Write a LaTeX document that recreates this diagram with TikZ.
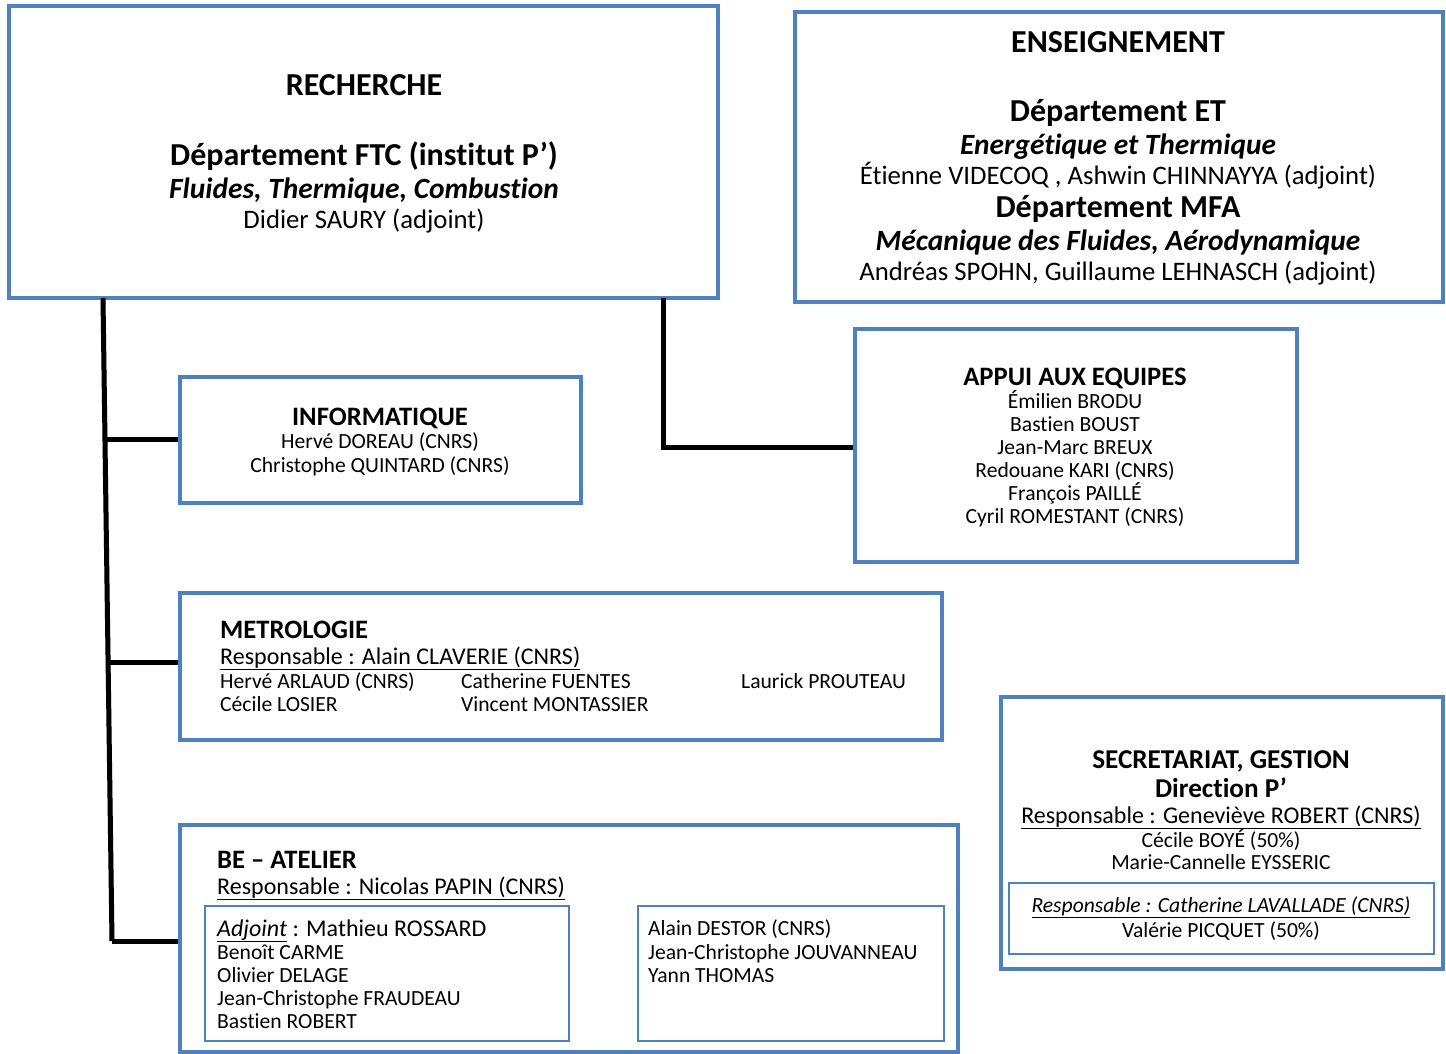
\documentclass[tikz,border=0pt]{standalone}
\usepackage{fontspec}
\setmainfont{Carlito}[Ligatures={TeX,NoCommon}]
\usetikzlibrary{calc}
\definecolor{boxblue}{RGB}{79,129,189}
\newcommand\myfs[1]{\fontsize{#1}{#1}\selectfont}
\begin{document}
\begin{tikzpicture}[x=1pt,y=-1pt,
 box/.style={draw=boxblue, line width=4pt, inner sep=0pt},
 subbox/.style={draw=boxblue, line width=2.5pt, inner sep=0pt},
 conn/.style={line width=5pt, black},
 connshadow/.style={line width=5pt, black!15},
 tc/.style={anchor=base, inner sep=0pt},
 tl/.style={anchor=base west, inner sep=0pt},
]
\useasboundingbox (0,0) rectangle (1446,1054);

% boxes
\node[box, minimum width=709pt, minimum height=292pt] (rech) at (363.5,152) {};
\node[box, minimum width=648pt, minimum height=290pt] (ens) at (1119,157) {};
\node[box, minimum width=401pt, minimum height=126pt] (info) at (380.5,440) {};
\node[box, minimum width=442pt, minimum height=233pt] (appui) at (1076,445) {};
\node[box, minimum width=762pt, minimum height=147pt] (metro) at (561,666.5) {};
\node[box, minimum width=778pt, minimum height=227pt] (be) at (569,938.5) {};
\node[subbox, minimum width=364pt, minimum height=135pt] (beL) at (387,973.5) {};
\node[subbox, minimum width=306pt, minimum height=135pt] (beR) at (791,973.5) {};
\node[box, minimum width=442pt, minimum height=272pt] (secr) at (1222,833) {};
\node[subbox, minimum width=425pt, minimum height=71pt] (secrIn) at (1221.5,918.5) {};

% connectors
\coordinate (t0) at (103,298);
\coordinate (t3) at (112,941);
\coordinate (t1) at ($(t0)!0.2208!(t3)$);
\coordinate (t2) at ($(t0)!0.5661!(t3)$);
\coordinate (r0) at (663,298);
\coordinate (r1) at (663,447);
\begin{scope}[shift={(2,2)}]
\draw[connshadow] (t0) -- (t3);
\draw[connshadow] (t1) -- (t1 -| info.west);
\draw[connshadow] (t2) -- (t2 -| metro.west);
\draw[connshadow] (t3) -- (t3 -| be.west);
\draw[connshadow] (r0) -- (r1) -- (r1 -| appui.west);
\end{scope}
\draw[conn] (t0) -- (t3);
\draw[conn] (t1) -- (t1 -| info.west);
\draw[conn] (t2) -- (t2 -| metro.west);
\draw[conn] (t3) -- (t3 -| be.west);
\draw[conn] (r0) -- (r1) -- (r1 -| appui.west);

% RECHERCHE
\node[tc] (rech1) at (364,96) {\myfs{32}\bfseries RECHERCHE};
\node[tc] (rech2) at (364,165) {\myfs{32}\bfseries Département FTC (institut P’)};
\node[tc] (rech3) at (364,198) {\myfs{29.4}\bfseries\itshape Fluides, Thermique, Combustion};
\node[tc] (rech4) at (364,228) {\myfs{26.7}Didier SAURY (adjoint)};

% ENSEIGNEMENT
\node[tc] (ens1) at (1118,53) {\myfs{32}\bfseries ENSEIGNEMENT};
\node[tc] (ens2) at (1118,122) {\myfs{32}\bfseries Département ET};
\node[tc] (ens3) at (1118,155) {\myfs{29.4}\bfseries\itshape Energétique et Thermique};
\node[tc] (ens4) at (1118,185) {\myfs{26.7}Étienne VIDECOQ , Ashwin CHINNAYYA (adjoint)};
\node[tc] (ens5) at (1118,217) {\myfs{32}\bfseries Département MFA};
\node[tc] (ens6) at (1118,250) {\myfs{29.4}\bfseries\itshape Mécanique des Fluides, Aérodynamique};
\node[tc] (ens7) at (1118,280) {\myfs{26.7}Andréas SPOHN, Guillaume LEHNASCH (adjoint)};

% INFORMATIQUE
\node[tc] (info1) at (380,425) {\myfs{26.6}\bfseries INFORMATIQUE};
\node[tc] (info2) at (380,448) {\myfs{21.6}Hervé DOREAU (CNRS)};
\node[tc] (info3) at (380,472) {\myfs{21.6}Christophe QUINTARD (CNRS)};

% APPUI
\node[tc] (ap1) at (1075,385) {\myfs{26.6}\bfseries APPUI AUX EQUIPES};
\node[tc] (ap2) at (1075,408) {\myfs{21.6}Émilien BRODU};
\node[tc] (ap3) at (1075,431) {\myfs{21.6}Bastien BOUST};
\node[tc] (ap4) at (1075,454) {\myfs{21.6}Jean-Marc BREUX};
\node[tc] (ap5) at (1075,477) {\myfs{21.6}Redouane KARI (CNRS)};
\node[tc] (ap6) at (1075,500) {\myfs{21.6}François PAILLÉ};
\node[tc] (ap7) at (1075,523) {\myfs{21.6}Cyril ROMESTANT (CNRS)};

% METROLOGIE
\node[tl] (me1) at (220,638) {\myfs{26.6}\bfseries METROLOGIE};
\node[tl] (me2) at (220,664) {\myfs{24}\underline{Responsable : Alain CLAVERIE (CNRS)}};
\node[tl] (me3) at (220,688) {\myfs{21.6}Hervé ARLAUD (CNRS)};
\node[tl] (me4) at (461,688) {\myfs{21.6}Catherine FUENTES};
\node[tl] (me5) at (741,688) {\myfs{21.6}Laurick PROUTEAU};
\node[tl] (me6) at (220,711) {\myfs{21.6}Cécile LOSIER};
\node[tl] (me7) at (461,711) {\myfs{21.6}Vincent MONTASSIER};

% BE - ATELIER
\node[tl] (be1) at (217,868) {\myfs{26.6}\bfseries BE – ATELIER};
\node[tl] (be2) at (217,894) {\myfs{24}\underline{Responsable : Nicolas PAPIN (CNRS)}};
\node[tl] (be3) at (217,936) {\myfs{24}\underline{\itshape Adjoint} : Mathieu ROSSARD};
\node[tl] (be4) at (217,959) {\myfs{21.6}Benoît CARME};
\node[tl] (be5) at (217,982) {\myfs{21.6}Olivier DELAGE};
\node[tl] (be6) at (217,1005) {\myfs{21.6}Jean-Christophe FRAUDEAU};
\node[tl] (be7) at (217,1028) {\myfs{21.6}Bastien ROBERT};
\node[tl] (be8) at (648,935) {\myfs{21.6}Alain DESTOR (CNRS)};
\node[tl] (be9) at (648,959) {\myfs{21.6}Jean-Christophe JOUVANNEAU};
\node[tl] (be10) at (648,982) {\myfs{21.6}Yann THOMAS};

% SECRETARIAT
\node[tc] (se1) at (1221,768) {\myfs{27.2}\bfseries SECRETARIAT, GESTION};
\node[tc] (se2) at (1221,797) {\myfs{27.2}\bfseries Direction P’};
\node[tc] (se3) at (1221,823) {\myfs{24}\underline{Responsable : Geneviève ROBERT (CNRS)}};
\node[tc] (se4) at (1221,847) {\myfs{21.6}Cécile BOYÉ (50\%)};
\node[tc] (se5) at (1221,869) {\myfs{21.6}Marie-Cannelle EYSSERIC};
\node[tc] (se6) at (1221,912) {\myfs{21.6}\underline{\itshape Responsable : Catherine LAVALLADE (CNRS)}};
\node[tc] (se7) at (1221,937) {\myfs{21.6}Valérie PICQUET (50\%)};
\end{tikzpicture}
\end{document}
